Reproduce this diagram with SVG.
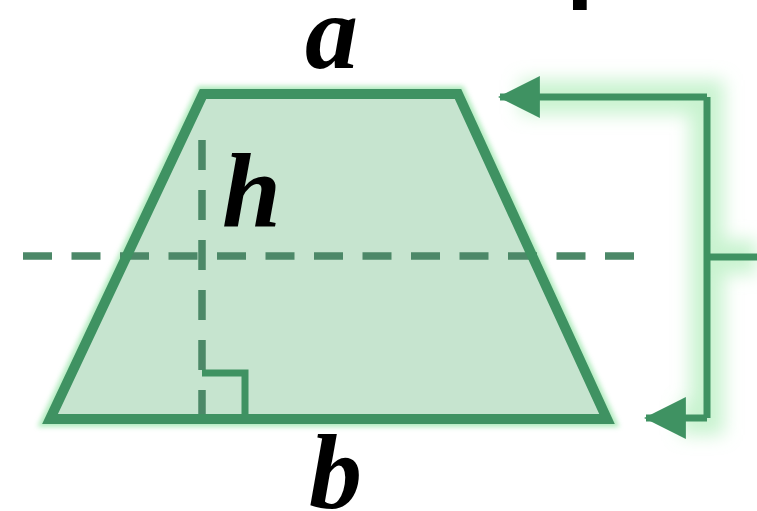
<svg xmlns="http://www.w3.org/2000/svg" width="757" height="511" viewBox="0 0 757 511">
  <defs>
    <style>
      .edge { fill: none; stroke: #3f9262; stroke-width: 10; stroke-linejoin: miter; }
      .dash { fill: none; stroke: #4c8868; stroke-width: 7.5; }
      .conn { fill: none; stroke: #3f9262; stroke-width: 7; }
      .glow { fill: none; stroke: #9beaa8; stroke-width: 34; opacity: 0.55; }
      .lbl { font-family: "Liberation Serif", "DejaVu Serif", serif; font-weight: bold; font-style: italic; font-size: 106px; fill: #000; }
    </style>
    <filter id="blur" x="-20%" y="-20%" width="140%" height="140%">
      <feGaussianBlur stdDeviation="9"/>
    </filter>
    <filter id="blurS" x="-10%" y="-10%" width="120%" height="120%">
      <feGaussianBlur stdDeviation="2.5"/>
    </filter>
    <marker id="arr" markerWidth="6" markerHeight="6" refX="5.7" refY="3" orient="auto" markerUnits="strokeWidth">
      <path d="M0,0 L6,3 L0,6 Z" fill="#3f9262"/>
    </marker>
  </defs>
  <rect width="757" height="511" fill="#ffffff"/>

  <!-- cut-off title fragment -->
  <text x="566" y="-11" font-family="Liberation Sans, Arial, sans-serif" font-weight="bold" font-size="100" fill="#000">p</text>

  <!-- glow -->
  <g id="glow" filter="url(#blur)">
    <path class="glow" d="M520,97 H707 V418 H680 M707,257 H757"/>
  </g>
  <g filter="url(#blurS)" opacity="0.7">
    <polygon points="203,94 458,94 607,419 50,419" fill="none" stroke="#8fe3a2" stroke-width="16"/>
  </g>

  <g id="trapezoid">
    <polygon points="203,94 458,94 607,419 50,419" fill="#c6e4cf"/>
    <line class="dash" x1="202" y1="140" x2="202" y2="420" stroke-dasharray="30 20"/>
    <line class="dash" x1="23" y1="256" x2="640" y2="256" stroke-dasharray="29 19.5"/>
    <polyline points="202,373 245,373 245,419" fill="none" stroke="#3f9262" stroke-width="7"/>
    <polygon class="edge" points="203,94 458,94 607,419 50,419"/>
  </g>

  <g id="label-a"><text class="lbl" x="305" y="68">a</text></g>
  <g id="label-h"><text class="lbl" x="222" y="227">h</text></g>
  <g id="label-b"><text class="lbl" x="309" y="508">b</text></g>

  <g id="connectors">
    <path class="conn" d="M707,257 H757"/>
    <path class="conn" d="M707,97 V418"/>
    <path class="conn" d="M707,97 H500" marker-end="url(#arr)"/>
    <path class="conn" d="M707,418 H646" marker-end="url(#arr)"/>
  </g>
</svg>
